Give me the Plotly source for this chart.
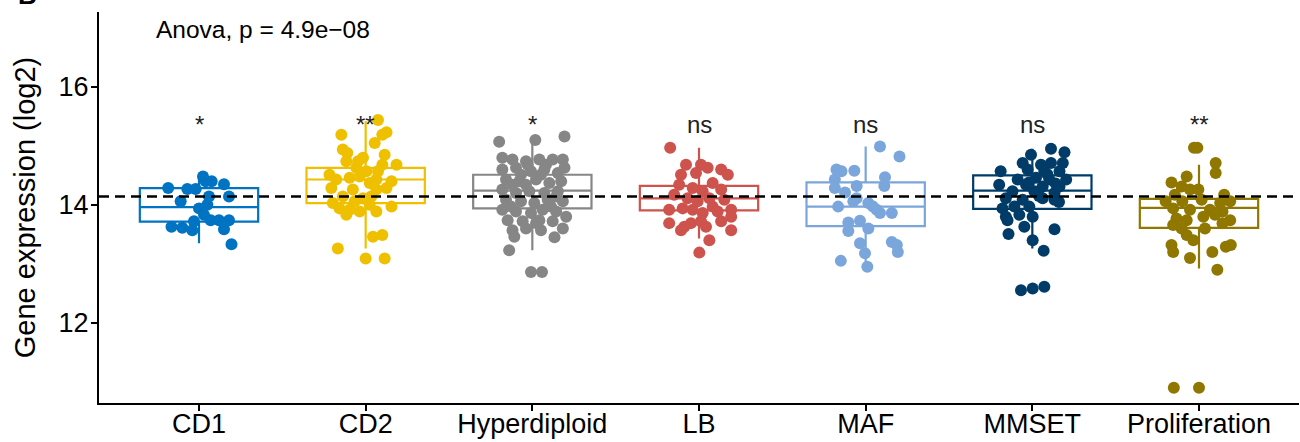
import plotly.graph_objects as go

# ---------------- data ----------------
categories = ["CD1", "CD2", "Hyperdiploid", "LB", "MAF", "MMSET", "Proliferation"]
colors = ["#0073C2", "#EFC000", "#868686", "#CD534C", "#7AA6DC", "#003C67", "#8F7700"]
signif = ["*", "**", "*", "ns", "ns", "ns", "**"]

# box statistics (log2 expression)
q1s = [13.715, 14.03, 13.94, 13.906, 13.64, 13.93, 13.61]
medians = [13.96, 14.43, 14.24, 14.11, 13.97, 14.24, 13.95]
q3s = [14.285, 14.626, 14.51, 14.32, 14.38, 14.50, 14.10]
lower_whiskers = [13.35, 13.26, 13.23, 13.43, 12.95, 13.26, 12.92]
upper_whiskers = [14.50, 15.42, 15.08, 14.97, 14.99, 14.95, 14.68]

overall_mean = 14.14
anova_label = "Anova, p = 4.9e\u221208"
y_title = "Gene expression (log2)"

# jittered points: horizontal offset from group centre, and value
cd1_dx = [-0.185, -0.07, -0.02, 0.024, 0.076, 0.15, 0.18, -0.11, 0.05, 0.0, 0.03, -0.03, 0.07, 0.12,
          0.18, -0.165, -0.10, -0.04, 0.15, 0.195, 0.06, 0.04]
cd1_y = [14.285, 14.27, 14.27, 14.48, 14.40, 14.35, 14.14, 14.06, 14.0, 13.94, 13.83, 13.72, 13.74, 13.74,
         13.74, 13.63, 13.61, 13.57, 13.585, 13.33, 14.14, 14.40]

cd2_dx = [0.074, -0.146, 0.125, 0.10, 0.054, -0.137, -0.11, -0.016, -0.046, -0.116, 0.114, 0.185, 0.10,
          0.074, -0.217, -0.177, -0.096, -0.036, 0.024, 0.125, 0.064, -0.077, -0.137, -0.016, -0.197,
          -0.096, -0.036, 0.064, 0.155, -0.116, 0.044, 0.10, -0.167, 0.0, 0.114, -0.206, 0.004, -0.056,
          0.034, -0.066, 0.024, -0.157, 0.064, 0.155]
cd2_y = [15.44, 15.19, 15.23, 15.19, 15.05, 14.94, 14.88, 14.80, 14.74, 14.74, 14.85, 14.68, 14.68,
         14.57, 14.51, 14.43, 14.46, 14.48, 14.37, 14.285, 14.26, 14.26, 14.14, 14.11, 14.03,
         13.915, 13.886, 13.886, 13.97, 13.83, 13.46, 13.49, 13.26, 13.09, 13.09, 14.285, 14.57, 14.63,
         14.14, 14.06, 14.0, 13.94, 14.43, 14.40]

hyp_dx = [-0.199, 0.018, 0.193, -0.18, -0.119, -0.038, 0.042, 0.122, 0.183, -0.18, -0.098, -0.008, 0.072,
          0.153, 0.193, -0.158, -0.078, 0.022, 0.102, 0.173, -0.18, -0.098, -0.018, 0.072, 0.153, -0.158,
          -0.068, 0.012, 0.092, 0.183, -0.18, -0.098, -0.008, 0.062, 0.143, 0.203, -0.148, -0.058, 0.042,
          0.122, 0.183, -0.119, -0.038, 0.052, -0.108, 0.133, -0.139, -0.008, 0.058, -0.068, 0.052,
          -0.038, -0.128, 0.112, 0.022, -0.028, 0.082, 0.143, -0.119]
hyp_y = [15.07, 15.10, 15.16, 14.80, 14.77, 14.74, 14.77, 14.77, 14.77, 14.60, 14.63, 14.57, 14.60,
         14.54, 14.63, 14.43, 14.40, 14.43, 14.37, 14.40, 14.26, 14.20, 14.23, 14.20, 14.23, 14.085,
         14.06, 14.03, 14.085, 14.06, 13.915, 13.886, 13.86, 13.915, 13.886, 13.80, 13.74, 13.72, 13.74,
         13.72, 13.60, 13.57, 13.60, 13.57, 13.46, 13.45, 13.23, 12.86, 12.86, 14.51, 14.51,
         14.34, 13.97, 13.97, 13.69, 14.68, 14.68, 14.14, 14.34]

lb_dx = [-0.173, -0.078, 0.012, 0.052, 0.133, 0.173, -0.108, -0.018, 0.082, -0.119, -0.038, 0.133, 0.022,
         -0.149, -0.068, 0.062, 0.152, -0.008, -0.179, -0.098, -0.038, 0.082, 0.193, 0.022, 0.112, 0.193,
         -0.048, 0.012, -0.179, 0.133, -0.088, 0.042, -0.108, 0.193, 0.062, 0.002]
lb_y = [14.97, 14.68, 14.68, 14.63, 14.60, 14.51, 14.51, 14.54, 14.37, 14.34, 14.285, 14.26, 14.23,
        14.17, 14.11, 14.11, 14.085, 14.06, 13.915, 13.94, 13.915, 13.97, 13.915, 13.86, 13.886, 13.80,
        13.69, 13.72, 13.69, 13.72, 13.63, 13.63, 13.57, 13.57, 13.40, 13.19]

maf_dx = [0.086, 0.203, -0.175, -0.145, -0.068, 0.116, -0.185, -0.054, 0.112, -0.185, -0.124, -0.054,
          -0.165, 0.016, 0.066, 0.157, 0.086, -0.104, -0.034, -0.104, 0.016, -0.034, 0.157, 0.187,
          -0.004, 0.193, -0.149, 0.01, -0.074, 0.044]
maf_y = [14.99, 14.82, 14.60, 14.57, 14.58, 14.47, 14.43, 14.32, 14.32, 14.285, 14.21, 14.11,
         13.97, 14.03, 13.915, 13.86, 13.86, 13.70, 13.73, 13.556, 13.60, 13.35, 13.37, 13.32,
         13.18, 13.20, 13.05, 12.95, 14.06, 13.97]

mms_dx = [0.112, 0.193, -0.008, -0.058, 0.052, 0.112, 0.183, -0.19, -0.028, 0.072, 0.163, -0.088, 0.022,
          0.102, 0.203, -0.038, 0.062, 0.163, -0.199, -0.119, 0.012, 0.133, -0.159, -0.058, 0.062, 0.133,
          -0.179, -0.108, -0.018, -0.159, -0.078, 0.002, -0.149, -0.048, -0.143, 0.133, 0.002, 0.068,
          -0.068, 0.002, 0.072, 0.09, 0.14, -0.02, 0.04, 0.16]
mms_y = [14.95, 14.89, 14.85, 14.71, 14.68, 14.71, 14.71, 14.57, 14.60, 14.57, 14.57, 14.43, 14.46,
         14.43, 14.43, 14.34, 14.31, 14.31, 14.34, 14.23, 14.23, 14.20, 14.11, 14.085, 14.11, 14.085,
         13.94, 13.97, 13.97, 13.80, 13.83, 13.80, 13.74, 13.63, 13.505, 13.585, 13.40, 13.22,
         12.55, 12.58, 12.61, 14.52, 14.36, 14.38, 14.15, 14.05]

pro_dx = [-0.03, -0.01, 0.10, 0.10, -0.074, -0.165, -0.104, -0.054, -0.004, -0.145, 0.151, -0.2, -0.10,
          0.016, 0.127, 0.187, -0.155, -0.054, 0.066, 0.141, 0.026, 0.096, -0.135, -0.074, 0.187, 0.141,
          -0.155, -0.104, 0.036, -0.074, -0.034, -0.165, -0.155, -0.054, 0.08, 0.161, 0.191, 0.11,
          -0.151, 0.0]
pro_y = [14.97, 14.97, 14.71, 14.54, 14.48, 14.38, 14.31, 14.26, 14.26, 14.17, 14.17, 14.06, 14.06,
         14.085, 14.03, 14.06, 13.94, 13.915, 13.915, 13.886, 13.80, 13.83, 13.77, 13.74, 13.74, 13.69,
         13.66, 13.60, 13.60, 13.49, 13.40, 13.32, 13.20, 13.10, 13.20, 13.29, 13.32, 12.90,
         10.90, 10.90]

point_dx = [cd1_dx, cd2_dx, hyp_dx, lb_dx, maf_dx, mms_dx, pro_dx]
point_y = [cd1_y, cd2_y, hyp_y, lb_y, maf_y, mms_y, pro_y]

# ---------------- figure ----------------
FONT = "Liberation Sans, Arial, sans-serif"
fig = go.Figure()

for i, cat in enumerate(categories):
    fig.add_trace(go.Box(
        x=[i], q1=[q1s[i]], median=[medians[i]], q3=[q3s[i]],
        lowerfence=[lower_whiskers[i]], upperfence=[upper_whiskers[i]],
        width=0.71, line=dict(color=colors[i], width=2.2),
        fillcolor="rgba(255,255,255,0)", boxpoints=False, whiskerwidth=0,
        hoverinfo="skip", name=cat, showlegend=False,
    ))

for i, cat in enumerate(categories):
    fig.add_trace(go.Scatter(
        x=[i + d for d in point_dx[i]], y=point_y[i], mode="markers",
        marker=dict(color=colors[i], size=12, line=dict(width=0)),
        showlegend=False, name=cat,
    ))

# overall mean reference line
fig.add_hline(y=overall_mean, line=dict(color="black", width=2.5, dash="10px,6px"), layer="above")

for i, s in enumerate(signif):
    fig.add_annotation(x=i, y=15.37, text=s, showarrow=False, xanchor="center", yanchor="middle",
                       font=dict(family=FONT, size=24, color="#222222"))

fig.add_annotation(x=-0.27, y=16.97, text=anova_label, showarrow=False, xanchor="left",
                   yanchor="middle", font=dict(family=FONT, size=24.5, color="black"))

# panel letter cut at the top
fig.add_annotation(xref="paper", yref="paper", x=-0.06, y=1.0, text="<b>B</b>", showarrow=False,
                   xanchor="center", yanchor="bottom", font=dict(family=FONT, size=26, color="black"))

fig.update_layout(
    width=1300, height=442,
    margin=dict(l=99, r=1, t=12, b=39, autoexpand=False),
    plot_bgcolor="white", paper_bgcolor="white",
    font=dict(family=FONT, color="black"),
    showlegend=False,
)
fig.update_xaxes(
    range=[-0.6, 6.6], tickvals=list(range(len(categories))), ticktext=categories,
    showline=True, linecolor="black", linewidth=2, ticks="outside", ticklen=6, tickwidth=2,
    tickcolor="black", tickfont=dict(size=27, color="black"), showgrid=False, zeroline=False,
    automargin=False, ticklabelstandoff=-10,
)
fig.update_yaxes(
    range=[10.64, 17.27], tickvals=[12, 14, 16],
    showline=True, linecolor="black", linewidth=2, ticks="outside", ticklen=6, tickwidth=2,
    tickcolor="black", tickfont=dict(size=27, color="black"), showgrid=False, zeroline=False,
    automargin=False, ticklabelstandoff=-3,
    title=dict(text=y_title, font=dict(size=29, color="black"), standoff=14),
)

fig.write_html(
    "out.html",
    config={"displayModeBar": False},
    post_script="document.body.style.margin='0';document.body.style.overflow='hidden';",
)
